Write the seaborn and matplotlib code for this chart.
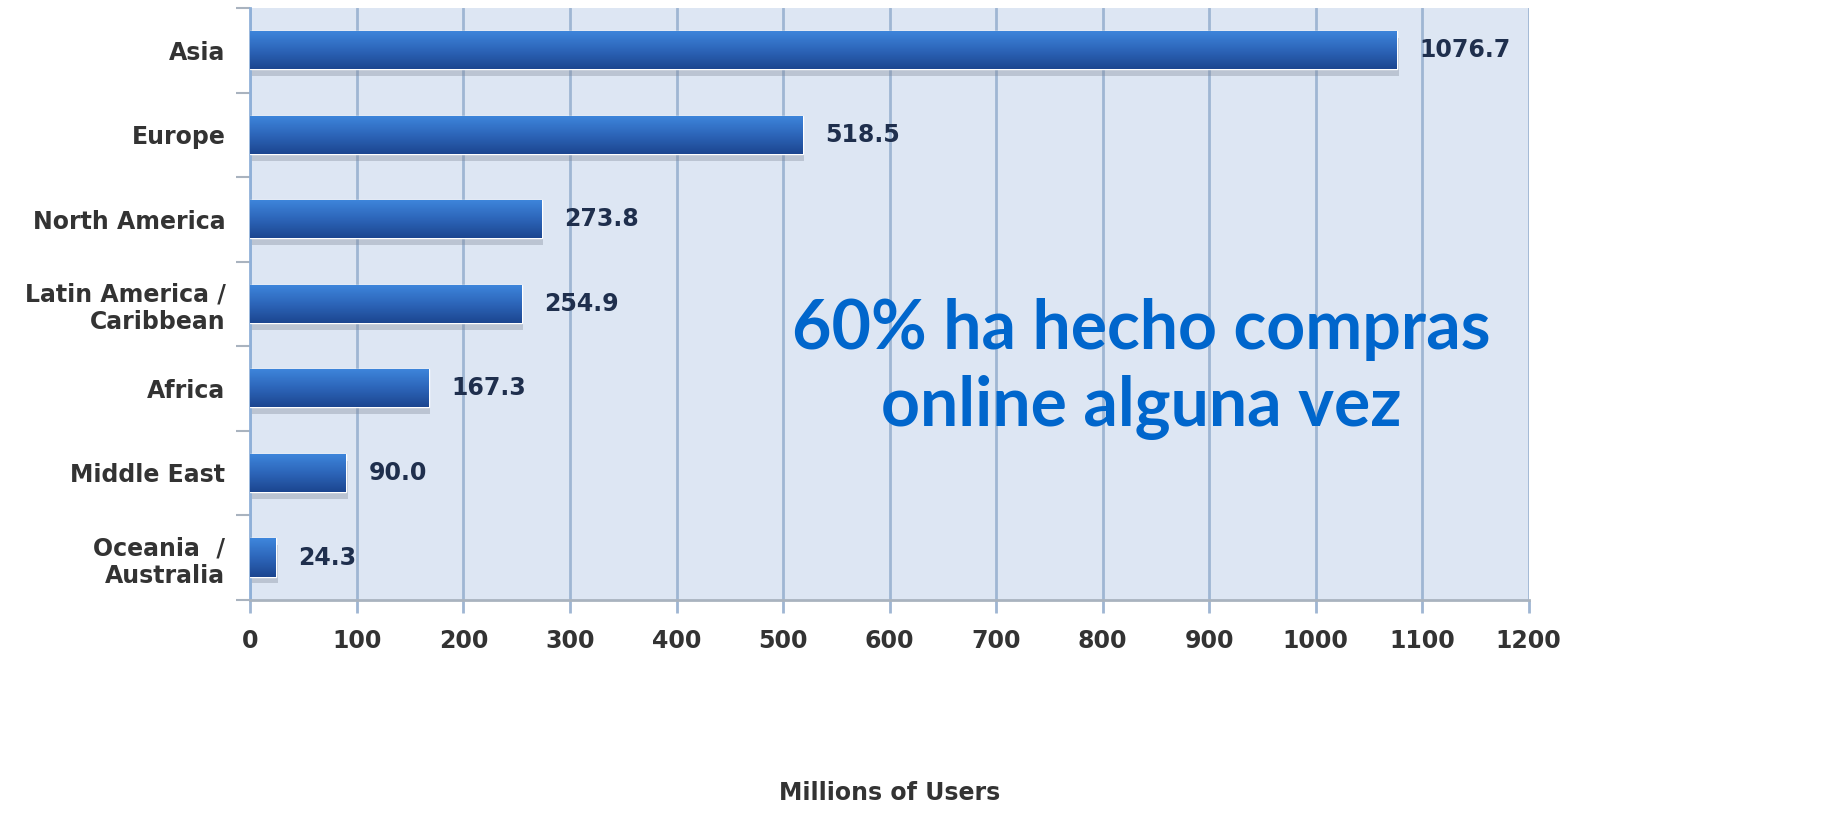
import matplotlib
matplotlib.use("Agg")
import matplotlib.pyplot as plt
import matplotlib.patheffects as pe
import numpy as np
import seaborn as sns
from matplotlib.colors import LinearSegmentedColormap
from matplotlib.ticker import MultipleLocator

sns.set_theme(style="white")
plt.rcParams["font.family"] = ["DejaVu Sans"]

regions = ["Asia", "Europe", "North America", "Latin America /\nCaribbean",
           "Africa", "Middle East", "Oceania  /\nAustralia"]
users = [1076.7, 518.5, 273.8, 254.9, 167.3, 90.0, 24.3]
x_ticks = list(range(0, 1201, 100))

fig = plt.figure(figsize=(18.35, 8.16), dpi=100)
ax = fig.add_axes([0.1365, 0.265, 0.6965, 0.725])
ax.set_facecolor("#dde6f3")

sns.barplot(x=users, y=regions, orient="h", color="#2b64b8", width=0.45,
            ax=ax, zorder=3)

ax.set_xlim(0, 1200)
ax.set_ylim(len(regions) - 0.5, -0.5)
ax.set_xticks(x_ticks)
ax.xaxis.grid(True, color="#9fb6d3", lw=2, zorder=0)
ax.set_axisbelow(True)

# gradient fill + soft shadow on every bar
grad = LinearSegmentedColormap.from_list("bar", ["#3e86dc", "#2d66ba", "#1c4690"])
g = np.linspace(0, 1, 64).reshape(-1, 1)
for p in ax.patches:
    p.set_path_effects([pe.SimplePatchShadow(offset=(1, -5), shadow_rgbFace="#7d8797",
                                             alpha=0.35), pe.Normal()])
    x0, y0, w, h = p.get_x(), p.get_y(), p.get_width(), p.get_height()
    im = ax.imshow(g, cmap=grad, aspect="auto", extent=(x0, x0 + w, y0 + h, y0),
                   origin="upper", zorder=4)
    im.set_clip_path(p)
ax.set_xlim(0, 1200)
ax.set_ylim(len(regions) - 0.5, -0.5)

ax.bar_label(ax.containers[0], labels=[f"{v:.1f}" for v in users], padding=16,
             fontsize=17, fontweight="bold", color="#1f2f4d")

# spines and ticks
for s in ["top", "right"]:
    ax.spines[s].set_visible(False)
ax.spines["left"].set_color("#8fb0d8")
ax.spines["left"].set_linewidth(2)
ax.spines["bottom"].set_color("#a9b3bf")
ax.spines["bottom"].set_linewidth(2)

ax.yaxis.set_minor_locator(MultipleLocator(1, offset=0.5))
ax.tick_params(axis="y", which="major", length=0, pad=18, labelsize=17,
               labelcolor="#333333")
ax.tick_params(axis="y", which="minor", left=True, length=10, width=1.5,
               color="#a9b3bf")
ax.tick_params(axis="x", which="major", bottom=True, length=9, width=2,
               color="#9fb6d3", pad=12, labelsize=17, labelcolor="#333333")
for lbl in ax.get_xticklabels() + ax.get_yticklabels():
    lbl.set_fontweight("bold")

ax.set_ylabel("")
ax.set_xlabel("Millions of Users", fontsize=17, fontweight="bold",
              color="#333333", labelpad=92)

ax.text(0.697, 0.39, "60% ha hecho compras\nonline alguna vez", transform=ax.transAxes,
        ha="center", va="center", fontsize=49, fontweight="bold", color="#0066cc",
        linespacing=1.27, family=["Lato", "DejaVu Sans"], zorder=6)

fig.savefig("out.png", dpi=100)
